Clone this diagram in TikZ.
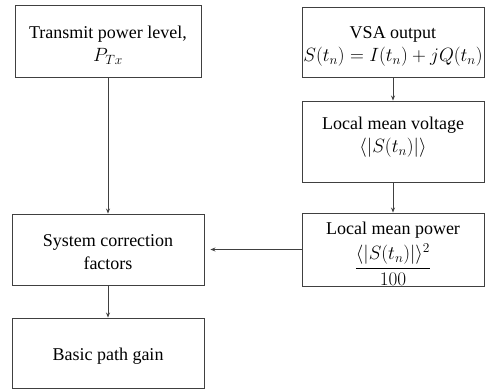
\RequirePackage{fix-cm}
\documentclass[tikz,border=0pt]{standalone}
\usepackage{amsmath}
\usepackage{fontspec}
\setmainfont{Liberation Serif}
\usetikzlibrary{arrows.meta}
\newcommand{\mbig}{\fontsize{19.2}{23.5}\selectfont}
\begin{document}
\begin{tikzpicture}[x=1pt,y=-1pt,
  box/.style={draw=black!75,line width=0.9pt,inner sep=0pt},
  txt/.style={align=center,inner sep=0pt,font=\fontsize{18}{23.5}\selectfont},
  conn/.style={draw=black!75,line width=0.9pt,-{Stealth[length=5pt,width=4pt]}}]
\useasboundingbox (0,0) rectangle (485,389);
% boxes
\node[box,minimum width=186pt,minimum height=72pt] (tx) at (108,41) {};
\node[box,minimum width=182pt,minimum height=70pt] (vsa) at (393,42) {};
\node[box,minimum width=182pt,minimum height=81pt] (lmv) at (393,141.5) {};
\node[box,minimum width=182pt,minimum height=73pt] (lmp) at (393,249.5) {};
\node[box,minimum width=192pt,minimum height=71pt] (scf) at (108,249.5) {};
\node[box,minimum width=192pt,minimum height=70pt] (bpg) at (108,353) {};
% texts
\node[txt] (txT) at (108,45) {Transmit power level,\\ {\mbig$P_{Tx}$}};
\node[txt] (vsaT) at (393,46.5) {VSA output\\ {\mbig$S(t_n)=I(t_n)+jQ(t_n)$}};
\node[txt] (lmvT) at (393,137) {Local mean voltage\\ {\mbig$\langle|S(t_n)|\rangle$}};
\node[txt] (lmpT) at (393,230) {Local mean power};
\node[txt,font=\mbig] (lmpF) at (393,265) {$\dfrac{\langle|S(t_n)|\rangle^2}{100}$};
\node[txt] (scfT) at (108,252) {System correction\\ factors};
\node[txt] (bpgT) at (108,356) {Basic path gain};
% connectors
\draw[conn] (tx) -- (scf);
\draw[conn] (vsa) -- (lmv);
\draw[conn] (lmv) -- (lmp);
\draw[conn,shorten >=6pt] (lmp) -- (scf);
\draw[conn] (scf) -- (bpg);
\end{tikzpicture}
\end{document}
